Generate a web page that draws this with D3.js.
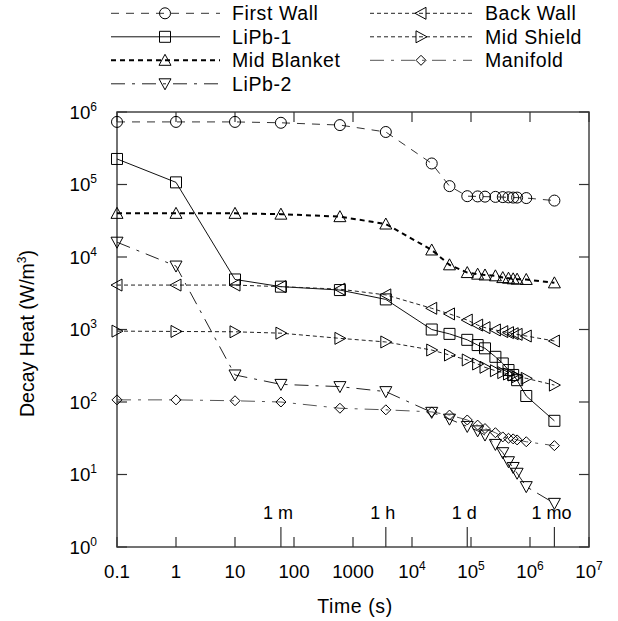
<!DOCTYPE html>
<html>
<head>
<meta charset="utf-8">
<script src="https://cdn.jsdelivr.net/npm/d3@7"></script>
<style>
  body { margin: 0; background: #fff; }
  svg { font-family: Arial, "Liberation Sans", sans-serif; }
</style>
</head>
<body>
<div id="chart"></div>
<script>
// cooling times (s): 0.1 s ... 10 min, 1 h, 6 h, 12 h, 1-7 d, 10 d, 30 d
const times = [0.1, 1, 10, 60, 600, 3600, 21600, 43200, 86400, 129600, 172800,
  259200, 345600, 432000, 518400, 604800, 864000, 2592000];

const firstWall = [7.3e5, 7.3e5, 7.3e5, 7.1e5, 6.6e5, 5.3e5, 1.95e5, 9.5e4, 6.9e4,
  6.85e4, 6.8e4, 6.75e4, 6.7e4, 6.65e4, 6.6e4, 6.6e4, 6.5e4, 6.0e4];
const lipb1 = [2.25e5, 1.07e5, 4.9e3, 3.9e3, 3.5e3, 2.6e3, 1.0e3, 870, 720, 610, 550,
  420, 340, 276, 236, 200, 121, 55];
const midBlanket = [4.0e4, 4.0e4, 4.0e4, 3.9e4, 3.6e4, 2.85e4, 1.25e4, 7.8e3, 6.1e3,
  5.8e3, 5.65e3, 5.5e3, 5.2e3, 5.1e3, 5.0e3, 4.95e3, 4.9e3, 4.4e3];
const lipb2 = [1.6e4, 7.5e3, 236, 175, 163, 139, 72, 58, 46, 40, 35, 26, 20, 15, 12.5,
  10.4, 6.8, 4.0];
const backWall = [4.1e3, 4.1e3, 4.1e3, 3.9e3, 3.6e3, 3.0e3, 1.96e3, 1.64e3, 1.35e3,
  1.15e3, 1.06e3, 985, 935, 905, 875, 857, 813, 694];
const midShield = [950, 940, 930, 890, 755, 673, 521, 445, 380, 334, 301, 270, 254,
  243, 236, 223, 212, 171];
const manifold = [107, 107, 104, 100, 82, 78, 73, 66, 56.5, 48, 43, 37.7, 33, 31.6,
  31, 30, 28.3, 25];

const xTicks = [0.1, 1, 10, 100, 1000, 1e4, 1e5, 1e6, 1e7];
const yTicks = [1, 10, 100, 1e3, 1e4, 1e5, 1e6];
const timeMarks = [["1 m", 60], ["1 h", 3600], ["1 d", 86400], ["1 mo", 2592000]];

const series = [
  { name: "First Wall", values: firstWall, shape: "circle", dash: "8,7", width: 1, color: "#333", col: 0, row: 0 },
  { name: "LiPb-1", values: lipb1, shape: "square", dash: null, width: 1, color: "#111", col: 0, row: 1 },
  { name: "Mid Blanket", values: midBlanket, shape: "up", dash: "5,4", width: 2, color: "#000", col: 0, row: 2 },
  { name: "LiPb-2", values: lipb2, shape: "down", dash: "14,7,3,7", width: 1, color: "#222", col: 0, row: 3 },
  { name: "Back Wall", values: backWall, shape: "left", dash: "4,3", width: 1, color: "#222", col: 1, row: 0 },
  { name: "Mid Shield", values: midShield, shape: "right", dash: "4,3", width: 1, color: "#222", col: 1, row: 1 },
  { name: "Manifold", values: manifold, shape: "diamond", dash: "14,7,3,7", width: 1, color: "#555", col: 1, row: 2 }
];

const W = 618, H = 621;
const margin = { left: 117, right: 29, top: 112, bottom: 74 };
const FONT = 18.7;
const TITLE_FONT = 19.5;

const svg = d3.select("#chart").append("svg")
  .attr("width", W).attr("height", H);

const x = d3.scaleLog().domain([0.1, 1e7]).range([margin.left, W - margin.right]);
const y = d3.scaleLog().domain([1, 1e6]).range([H - margin.bottom, margin.top]);

const x0 = x.range()[0], x1 = x.range()[1];
const yB = y.range()[0], yT = y.range()[1];

function markerPath(shape) {
  const p = d3.path();
  if (shape === "circle") {
    p.arc(0, 0, 5.5, 0, 2 * Math.PI);
  } else if (shape === "square") {
    p.rect(-5.5, -5.5, 11, 11);
  } else if (shape === "up") {
    p.moveTo(0, -6); p.lineTo(6, 5); p.lineTo(-6, 5); p.closePath();
  } else if (shape === "down") {
    p.moveTo(0, 6); p.lineTo(6, -5); p.lineTo(-6, -5); p.closePath();
  } else if (shape === "left") {
    p.moveTo(-6, 0); p.lineTo(5, -6); p.lineTo(5, 6); p.closePath();
  } else if (shape === "right") {
    p.moveTo(6, 0); p.lineTo(-5, -6); p.lineTo(-5, 6); p.closePath();
  } else {
    p.moveTo(0, -5); p.lineTo(5, 0); p.lineTo(0, 5); p.lineTo(-5, 0); p.closePath();
  }
  return p.toString();
}

// frame
svg.append("rect")
  .attr("x", x0).attr("y", yT)
  .attr("width", x1 - x0).attr("height", yB - yT)
  .attr("fill", "none").attr("stroke", "#444").attr("stroke-width", 1.5);

// ticks (inward)
const tickG = svg.append("g").attr("stroke", "#333").attr("stroke-width", 1.2);
xTicks.forEach(t => {
  tickG.append("line").attr("x1", x(t)).attr("x2", x(t)).attr("y1", yB).attr("y2", yB - 10);
  tickG.append("line").attr("x1", x(t)).attr("x2", x(t)).attr("y1", yT).attr("y2", yT + 10);
});
yTicks.forEach(v => {
  tickG.append("line").attr("x1", x0).attr("x2", x0 + 10).attr("y1", y(v)).attr("y2", y(v));
  tickG.append("line").attr("x1", x1).attr("x2", x1 - 10).attr("y1", y(v)).attr("y2", y(v));
});
timeMarks.forEach(([lbl, t]) => {
  tickG.append("line").attr("x1", x(t)).attr("x2", x(t)).attr("y1", yB).attr("y2", yB - 20);
  svg.append("text")
    .attr("x", x(t) - 3).attr("y", yB - 28)
    .attr("text-anchor", "middle").attr("font-size", 18)
    .text(lbl);
});

function powerLabel(sel, exp) {
  sel.append("tspan").text("10");
  sel.append("tspan").attr("font-size", 12).attr("dy", -8).text(exp);
}

// x tick labels
xTicks.forEach(t => {
  const txt = svg.append("text")
    .attr("x", x(t)).attr("y", yB + 31)
    .attr("text-anchor", "middle").attr("font-size", FONT);
  if (t < 1e4) txt.text(d3.format("~g")(t));
  else powerLabel(txt, Math.round(Math.log10(t)));
});

// y tick labels
yTicks.forEach(v => {
  const txt = svg.append("text")
    .attr("x", x0 - 20).attr("y", y(v) + 6.5)
    .attr("text-anchor", "end").attr("font-size", FONT);
  powerLabel(txt, Math.round(Math.log10(v)));
});

// axis titles
svg.append("text")
  .attr("x", (x0 + x1) / 2 + 2).attr("y", 613)
  .attr("text-anchor", "middle").attr("font-size", TITLE_FONT)
  .attr("letter-spacing", 0.6)
  .text("Time (s)");

const yt = svg.append("text")
  .attr("transform", `translate(34,${(yT + yB) / 2 + 4}) rotate(-90)`)
  .attr("text-anchor", "middle").attr("font-size", TITLE_FONT);
yt.append("tspan").text("Decay Heat (W/m");
yt.append("tspan").attr("font-size", 12).attr("dy", -8).text("3");
yt.append("tspan").attr("dy", 8).text(")");

// series
const line = d3.line().x(d => x(d[0])).y(d => y(d[1]));

series.forEach(s => {
  const pts = times.map((t, i) => [t, s.values[i]]);
  svg.append("path")
    .datum(pts)
    .attr("d", line)
    .attr("fill", "none")
    .attr("stroke", s.color)
    .attr("stroke-width", s.width)
    .attr("stroke-dasharray", s.dash);
  svg.append("g").selectAll("path")
    .data(pts)
    .join("path")
    .attr("transform", d => `translate(${x(d[0])},${y(d[1])})`)
    .attr("d", markerPath(s.shape))
    .attr("fill", "none")
    .attr("stroke", "#000")
    .attr("stroke-width", 1);
});

// legend
const legCols = [{ x0: 111, x1: 220, mark: 165, text: 232 },
                 { x0: 370, x1: 472, mark: 421, text: 485 }];
series.forEach(s => {
  const c = legCols[s.col];
  const ly = 13.3 + s.row * 23.5;
  const g = svg.append("g");
  g.append("line")
    .attr("x1", c.x0).attr("x2", c.x1).attr("y1", ly).attr("y2", ly)
    .attr("stroke", s.color).attr("stroke-width", s.width)
    .attr("stroke-dasharray", s.dash);
  g.append("path")
    .attr("transform", `translate(${c.mark},${ly})`)
    .attr("d", markerPath(s.shape))
    .attr("fill", "none").attr("stroke", "#000");
  g.append("text")
    .attr("x", c.text).attr("y", ly + 7)
    .attr("font-size", 19.5)
    .attr("letter-spacing", 0.6)
    .text(s.name);
});
</script>
</body>
</html>
